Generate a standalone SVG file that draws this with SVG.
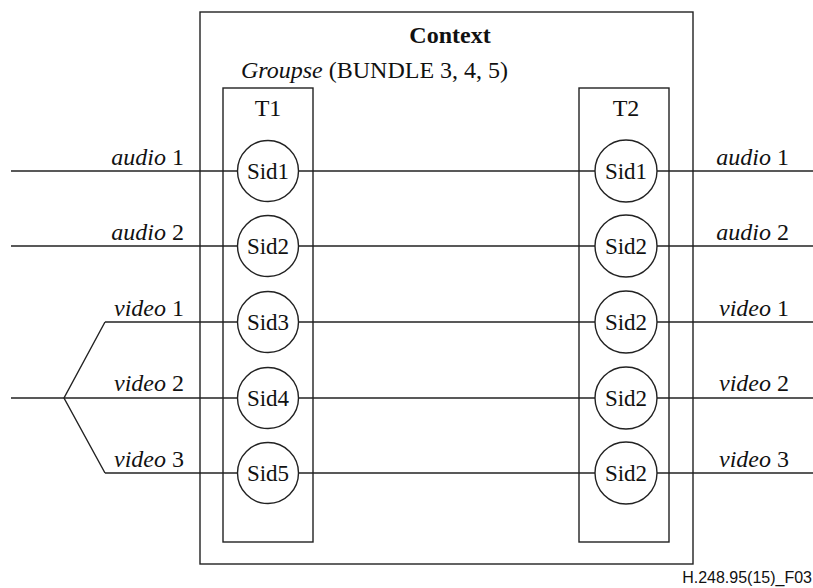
<svg xmlns="http://www.w3.org/2000/svg" width="813" height="588" viewBox="0 0 813 588">
  <style>
    .ln { stroke: #222; stroke-width: 1.4; fill: none; }
    .box { stroke: #222; stroke-width: 1.4; fill: none; }
    .sid { stroke: #222; stroke-width: 1.4; fill: #fff; }
    .t { font-family: "Liberation Serif", "Times New Roman", serif; font-size: 24px; fill: #111; }
    .s { font-size: 23px; }
    .c { text-anchor: middle; }
    .e { text-anchor: end; }
    .i { font-style: italic; }
    .b { font-weight: bold; }
    .f { font-family: "Liberation Sans", Arial, sans-serif; font-size: 16px; fill: #111; text-anchor: end; }
  </style>
  <rect width="813" height="588" fill="#fff"/>

  <!-- external streams and links between terminations -->
  <g id="connectors">
    <line class="ln" x1="11" y1="171" x2="237" y2="171"/>
    <line class="ln" x1="11" y1="246" x2="237" y2="246"/>
    <polyline class="ln" points="105,322 64,398 105,473"/>
    <line class="ln" x1="105" y1="322" x2="237" y2="322"/>
    <line class="ln" x1="11" y1="398" x2="237" y2="398"/>
    <line class="ln" x1="105" y1="473" x2="237" y2="473"/>

    <line class="ln" x1="299" y1="171" x2="595" y2="171"/>
    <line class="ln" x1="299" y1="246" x2="595" y2="246"/>
    <line class="ln" x1="299" y1="322" x2="595" y2="322"/>
    <line class="ln" x1="299" y1="398" x2="595" y2="398"/>
    <line class="ln" x1="299" y1="473" x2="595" y2="473"/>

    <line class="ln" x1="657" y1="171" x2="813" y2="171"/>
    <line class="ln" x1="657" y1="246" x2="813" y2="246"/>
    <line class="ln" x1="657" y1="322" x2="813" y2="322"/>
    <line class="ln" x1="657" y1="398" x2="813" y2="398"/>
    <line class="ln" x1="657" y1="473" x2="813" y2="473"/>
  </g>

  <!-- context -->
  <g id="context">
    <rect class="box" x="200" y="12" width="493" height="552"/>
    <text class="t b c" x="450" y="43">Context</text>
    <text class="t" x="241" y="78"><tspan class="i">Groupse</tspan> (BUNDLE 3, 4, 5)</text>
  </g>

  <!-- termination T1 -->
  <g id="T1">
    <rect class="box" x="223" y="88" width="90" height="454"/>
    <text class="t c" x="268" y="116">T1</text>
    <g id="T1-sid1"><circle class="sid" cx="268" cy="171" r="30.5"/><text class="t s c" x="268" y="179">Sid1</text></g>
    <g id="T1-sid2"><circle class="sid" cx="268" cy="246" r="30.5"/><text class="t s c" x="268" y="254">Sid2</text></g>
    <g id="T1-sid3"><circle class="sid" cx="268" cy="322" r="30.5"/><text class="t s c" x="268" y="330">Sid3</text></g>
    <g id="T1-sid4"><circle class="sid" cx="268" cy="398" r="30.5"/><text class="t s c" x="268" y="406">Sid4</text></g>
    <g id="T1-sid5"><circle class="sid" cx="268" cy="473" r="30.5"/><text class="t s c" x="268" y="481">Sid5</text></g>
  </g>

  <!-- termination T2 -->
  <g id="T2">
    <rect class="box" x="579" y="88" width="90" height="454"/>
    <text class="t c" x="626" y="116">T2</text>
    <g id="T2-sid1"><circle class="sid" cx="626" cy="171" r="31"/><text class="t s c" x="626" y="179">Sid1</text></g>
    <g id="T2-sid2"><circle class="sid" cx="626" cy="246" r="31"/><text class="t s c" x="626" y="254">Sid2</text></g>
    <g id="T2-sid3"><circle class="sid" cx="626" cy="322" r="31"/><text class="t s c" x="626" y="330">Sid2</text></g>
    <g id="T2-sid4"><circle class="sid" cx="626" cy="398" r="31"/><text class="t s c" x="626" y="406">Sid2</text></g>
    <g id="T2-sid5"><circle class="sid" cx="626" cy="473" r="31"/><text class="t s c" x="626" y="481">Sid2</text></g>
  </g>

  <!-- stream labels -->
  <g id="labels-left">
    <text class="t e" x="184" y="165"><tspan class="i">audio</tspan> 1</text>
    <text class="t e" x="184" y="240"><tspan class="i">audio</tspan> 2</text>
    <text class="t e" x="184" y="316"><tspan class="i">video</tspan> 1</text>
    <text class="t e" x="184" y="391"><tspan class="i">video</tspan> 2</text>
    <text class="t e" x="184" y="467"><tspan class="i">video</tspan> 3</text>
  </g>
  <g id="labels-right">
    <text class="t e" x="789" y="165"><tspan class="i">audio</tspan> 1</text>
    <text class="t e" x="789" y="240"><tspan class="i">audio</tspan> 2</text>
    <text class="t e" x="789" y="316"><tspan class="i">video</tspan> 1</text>
    <text class="t e" x="789" y="391"><tspan class="i">video</tspan> 2</text>
    <text class="t e" x="789" y="467"><tspan class="i">video</tspan> 3</text>
  </g>

  <text class="f" x="812" y="583">H.248.95(15)_F03</text>
</svg>
